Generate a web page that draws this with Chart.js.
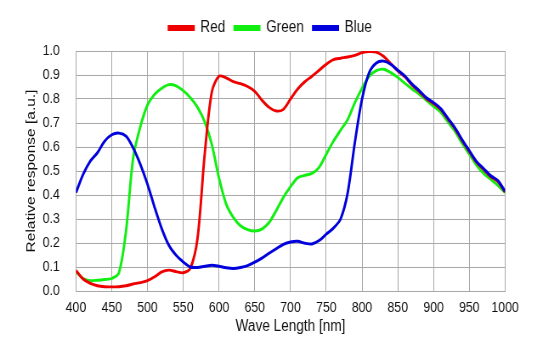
<!DOCTYPE html>
<html>
<head>
<meta charset="utf-8">
<script src="https://cdn.jsdelivr.net/npm/chart.js@4/dist/chart.umd.min.js"></script>
<style>
  html, body { margin: 0; padding: 0; background: #fff; }
  #wrap { width: 554px; height: 342px; overflow: hidden; }
  #chart-resp { display: block; }
</style>
</head>
<body>
<!-- drawn on a wider canvas and squeezed to 554px, which gives the narrow lettering -->
<div id="wrap"><canvas id="chart-resp" width="652" height="342" style="width:554px;height:342px"></canvas></div>
<script>
// wavelength in nm, every 10 nm
var waveLength = [];
for (var w = 400; w <= 1000; w += 10) waveLength.push(w);

var red = [0.085, 0.05, 0.032, 0.022, 0.018, 0.017, 0.018, 0.022, 0.029, 0.035,
	0.043, 0.059, 0.08, 0.087, 0.081, 0.076, 0.095, 0.22, 0.57, 0.83,
	0.895, 0.888, 0.872, 0.864, 0.852, 0.832, 0.795, 0.765, 0.75, 0.757,
	0.80, 0.842, 0.872, 0.895, 0.92, 0.945, 0.964, 0.97, 0.975, 0.982,
	0.993, 0.998, 0.995, 0.978, 0.948, 0.917, 0.892, 0.858, 0.831, 0.801,
	0.781, 0.756, 0.716, 0.676, 0.626, 0.581, 0.536, 0.506, 0.476, 0.456, 0.412];

var green = [0.08, 0.052, 0.043, 0.045, 0.048, 0.052, 0.075, 0.25, 0.555, 0.685,
	0.775, 0.82, 0.845, 0.86, 0.855, 0.835, 0.805, 0.765, 0.705, 0.61,
	0.47, 0.362, 0.307, 0.272, 0.256, 0.25, 0.258, 0.285, 0.335, 0.39,
	0.435, 0.472, 0.482, 0.49, 0.515, 0.57, 0.624, 0.67, 0.715, 0.785,
	0.845, 0.895, 0.918, 0.924, 0.91, 0.89, 0.865, 0.842, 0.82, 0.795,
	0.77, 0.745, 0.705, 0.665, 0.615, 0.57, 0.525, 0.49, 0.465, 0.44, 0.41];

var blue = [0.41, 0.486, 0.541, 0.576, 0.624, 0.651, 0.658, 0.645, 0.596, 0.528,
	0.445, 0.348, 0.259, 0.19, 0.149, 0.121, 0.1, 0.098, 0.103, 0.107,
	0.103, 0.097, 0.094, 0.098, 0.106, 0.12, 0.137, 0.157, 0.176, 0.194,
	0.204, 0.207, 0.199, 0.196, 0.21, 0.237, 0.262, 0.30, 0.41, 0.62,
	0.80, 0.91, 0.95, 0.958, 0.945, 0.92, 0.895, 0.862, 0.835, 0.805,
	0.785, 0.76, 0.72, 0.68, 0.63, 0.585, 0.54, 0.51, 0.48, 0.46, 0.415];

var xTicks = [400, 450, 500, 550, 600, 650, 700, 750, 800, 850, 900, 950, 1000];

function pts(arr) {
	return arr.map(function(v, i) { return { x: waveLength[i], y: v }; });
}

var font = "'Liberation Sans', Arial, sans-serif";
Chart.defaults.font.family = font;
Chart.defaults.color = '#111';

// extra room under the legend, and legend nudged right a little
var legendGap = {
	id: 'legendGap',
	beforeInit: function(chart) {
		var fit = chart.legend.fit;
		chart.legend.fit = function() {
			fit.bind(chart.legend)();
			this.height += 5;
		};
	},
	afterLayout: function(chart) {
		chart.legend.left += 11;
		chart.legend.right += 11;
	}
};

var ctx = document.getElementById("chart-resp").getContext('2d');
var myChart = new Chart(ctx, {
	type: 'line',
	data: {
		datasets: [
			{ label: 'Red', data: pts(red), borderColor: '#ee0000', backgroundColor: '#ee0000', order: 1 },
			{ label: 'Green', data: pts(green), borderColor: '#11ee11', backgroundColor: '#11ee11', order: 2 },
			{ label: 'Blue', data: pts(blue), borderColor: '#0000dd', backgroundColor: '#0000dd', order: 0 }
		]
	},
	plugins: [legendGap],
	options: {
		responsive: false,
		devicePixelRatio: 1,
		animation: false,
		layout: { padding: { top: 9, right: 57.6, bottom: 4, left: 20 } },
		elements: {
			point: { radius: 0 },
			line: { borderWidth: 2.9, tension: 0.3, fill: false }
		},
		plugins: {
			tooltip: { enabled: false },
			legend: {
				position: 'top',
				labels: {
					boxWidth: 29,
					boxHeight: 3,
					padding: 11,
					font: { size: 16 },
					color: '#111',
					sort: function(a, b) { return a.datasetIndex - b.datasetIndex; }
				}
			}
		},
		scales: {
			x: {
				type: 'linear',
				min: 400,
				max: 1000,
				afterBuildTicks: function(scale) {
					scale.ticks = xTicks.map(function(v) { return { value: v }; });
				},
				afterFit: function(scale) { scale.height = 47; },
				grid: { color: '#a8a8a8', lineWidth: 1, drawTicks: false },
				border: { color: '#a8a8a8' },
				ticks: {
					padding: 8,
					font: { size: 14.5 },
					color: '#111',
					maxRotation: 0,
					autoSkip: false,
					callback: function(v) { return String(v); }
				},
				title: { display: true, text: 'Wave Length [nm]', font: { size: 16 }, color: '#111', padding: { top: 0, bottom: 2 } }
			},
			y: {
				min: 0,
				max: 1,
				afterFit: function(scale) { scale.width = 69.4; },
				grid: { color: '#a8a8a8', lineWidth: 1, drawTicks: false },
				border: { color: '#a8a8a8' },
				ticks: {
					stepSize: 0.1,
					padding: 19,
					font: { size: 14.5 },
					color: '#111',
					callback: function(v) { return v.toFixed(1); }
				},
				title: { display: true, text: 'Relative response [a.u.]', font: { size: 15.5 }, color: '#111', padding: { top: 7, bottom: 0 } }
			}
		}
	}
});
</script>
</body>
</html>
